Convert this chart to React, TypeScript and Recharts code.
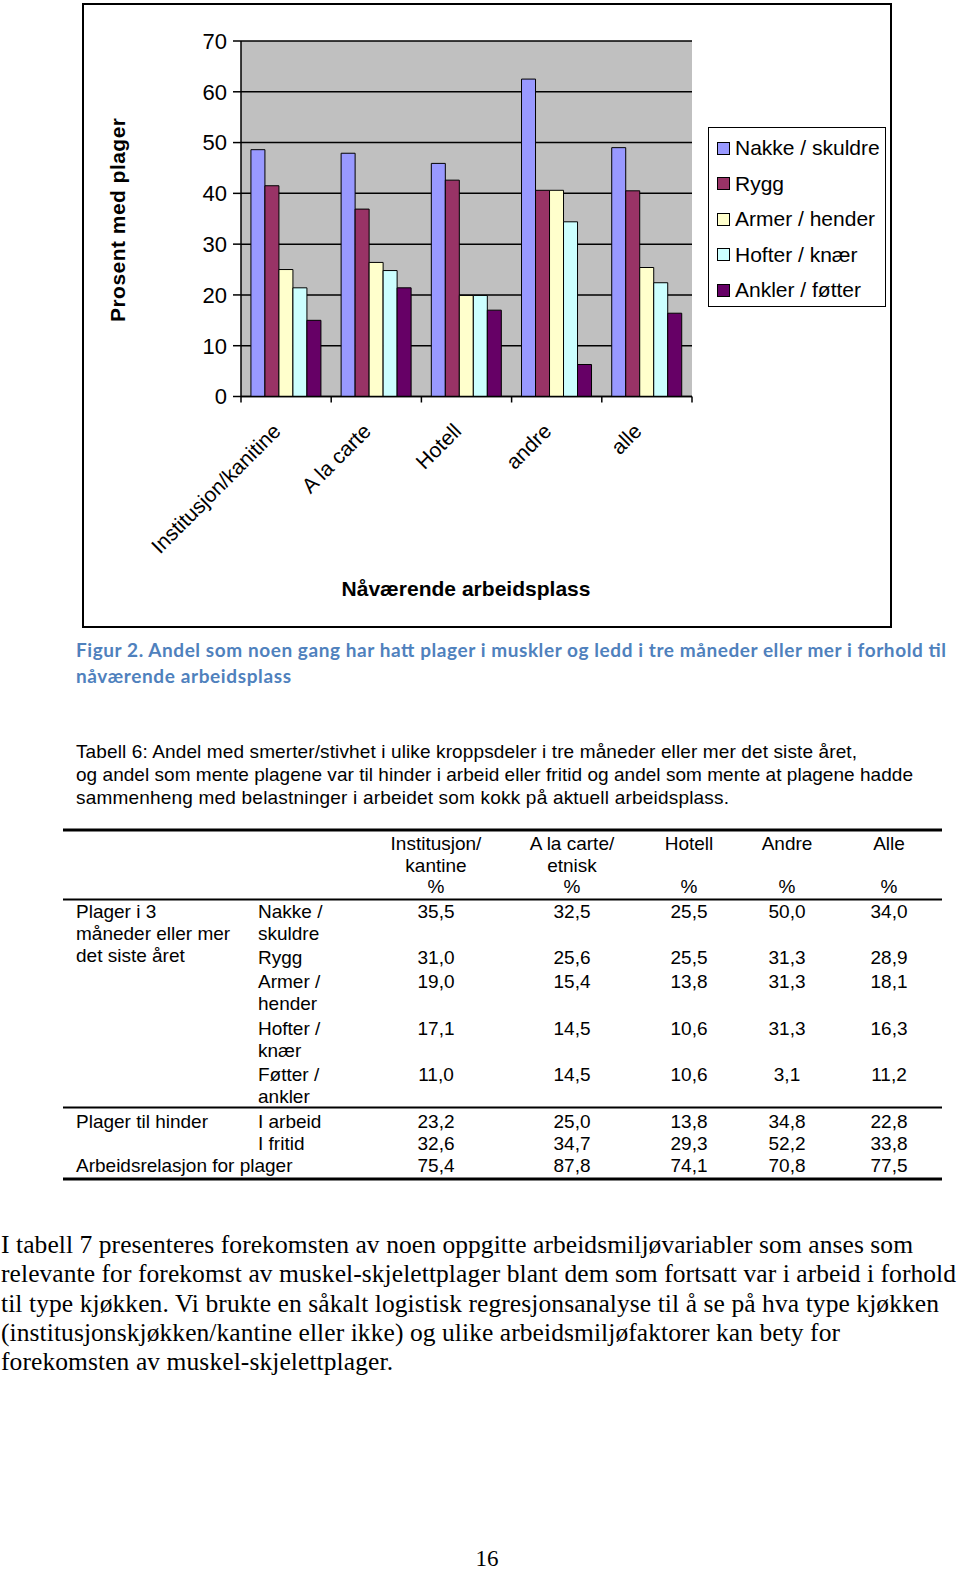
import React from 'react';
import { BarChart, Bar, XAxis, YAxis, CartesianGrid, Legend } from 'recharts';

// ---------- chart data ----------
const categories = ['Institusjon/kanitine', 'A la carte', 'Hotell', 'andre', 'alle'];
const seriesNames = ['Nakke / skuldre', 'Rygg', 'Armer / hender', 'Hofter / knær', 'Ankler / føtter'];
const seriesColors = ['#9999FF', '#993366', '#FFFFCC', '#CCFFFF', '#660066'];
const nakke = [48.6, 47.9, 45.9, 62.5, 49.0];
const rygg = [41.5, 36.9, 42.6, 40.6, 40.5];
const armer = [25.0, 26.4, 19.9, 40.6, 25.4];
const hofter = [21.4, 24.8, 19.9, 34.4, 22.4];
const ankler = [15.0, 21.4, 17.0, 6.3, 16.4];
const yTicks = [0, 10, 20, 30, 40, 50, 60, 70];
const yTitle = 'Prosent med plager';
const xTitle = 'Nåværende arbeidsplass';

// ---------- page text ----------
const captionLines = [
  'Figur 2. Andel som noen gang har hatt plager i muskler og ledd i tre måneder eller mer i forhold til',
  'nåværende arbeidsplass',
];
const introLines = [
  'Tabell 6: Andel med smerter/stivhet i ulike kroppsdeler i tre måneder eller mer det siste året,',
  'og andel som mente plagene var til hinder i arbeid eller fritid og andel som mente at plagene hadde',
  'sammenheng med belastninger i arbeidet som kokk på aktuell arbeidsplass.',
];
const tableHeaders = [
  ['Institusjon/', 'kantine', '%'],
  ['A la carte/', 'etnisk', '%'],
  ['Hotell', '', '%'],
  ['Andre', '', '%'],
  ['Alle', '', '%'],
];
const groupLabels = [
  ['Plager i 3', 'måneder eller mer', 'det siste året'],
  ['Plager til hinder'],
  ['Arbeidsrelasjon for plager'],
];
const rowLabels = [
  ['Nakke /', 'skuldre'],
  ['Rygg'],
  ['Armer /', 'hender'],
  ['Hofter /', 'knær'],
  ['Føtter /', 'ankler'],
  ['I arbeid'],
  ['I fritid'],
  [''],
];
const rowNakke = ['35,5', '32,5', '25,5', '50,0', '34,0'];
const rowRygg = ['31,0', '25,6', '25,5', '31,3', '28,9'];
const rowArmer = ['19,0', '15,4', '13,8', '31,3', '18,1'];
const rowHofter = ['17,1', '14,5', '10,6', '31,3', '16,3'];
const rowFotter = ['11,0', '14,5', '10,6', '3,1', '11,2'];
const rowArbeid = ['23,2', '25,0', '13,8', '34,8', '22,8'];
const rowFritid = ['32,6', '34,7', '29,3', '52,2', '33,8'];
const rowRelasjon = ['75,4', '87,8', '74,1', '70,8', '77,5'];
const tableRows = [rowNakke, rowRygg, rowArmer, rowHofter, rowFotter, rowArbeid, rowFritid, rowRelasjon];
const paragraphLines = [
  'I tabell 7 presenteres forekomsten av noen oppgitte arbeidsmiljøvariabler som anses som',
  'relevante for forekomst av muskel-skjelettplager blant dem som fortsatt var i arbeid i forhold',
  'til type kjøkken. Vi brukte en såkalt logistisk regresjonsanalyse til å se på hva type kjøkken',
  '(institusjonskjøkken/kantine eller ikke) og ulike arbeidsmiljøfaktorer kan bety for',
  'forekomsten av muskel-skjelettplager.',
];
const pageNumber = '16';

const seriesValues = [nakke, rygg, armer, hofter, ankler];
const data = categories.map((c, i) => {
  const row: any = { cat: c };
  seriesValues.forEach((vals, s) => {
    row['s' + s] = vals[i];
  });
  return row;
});

const SANS = '"Liberation Sans", Arial, sans-serif';
const SERIF = '"Liberation Serif", "Times New Roman", serif';

const XTick = (props: any) => {
  const { x, y, payload, index, width, visibleTicksCount } = props;
  let half = payload && payload.offset ? payload.offset : width / visibleTicksCount / 2;
  if (!isFinite(half)) half = 0;
  const tx = x - 4;
  const ty = y + 36;
  return (
    <g>
      <line x1={x - half} y1={y} x2={x - half} y2={y + 6} stroke="#000" strokeWidth={1.5} />
      {index === visibleTicksCount - 1 && (
        <line x1={x + half} y1={y} x2={x + half} y2={y + 6} stroke="#000" strokeWidth={1.5} />
      )}
      <text
        x={tx}
        y={ty}
        transform={`rotate(-45 ${tx} ${ty})`}
        textAnchor="end"
        fontSize={21}
        fontFamily={SANS}
        fill="#000"
      >
        {payload.value}
      </text>
    </g>
  );
};

const LegendBox = () => (
  <div
    style={{
      position: 'relative',
      width: 178,
      height: 180,
      boxSizing: 'border-box',
      border: '1.5px solid #000',
      background: '#fff',
    }}
  >
    {seriesNames.map((n, i) => (
      <div
        key={n}
        style={{
          position: 'absolute',
          left: 8,
          top: 7 + i * 35.5,
          height: 26,
          display: 'flex',
          alignItems: 'center',
          whiteSpace: 'nowrap',
          fontFamily: SANS,
          fontSize: 21,
          color: '#000',
        }}
      >
        <span
          style={{
            display: 'inline-block',
            width: 13,
            height: 13,
            boxSizing: 'border-box',
            border: '1px solid #000',
            background: seriesColors[i],
            marginRight: 5,
          }}
        />
        <span>{n}</span>
      </div>
    ))}
  </div>
);

const Chart = () => (
  <BarChart
    width={960}
    height={640}
    data={data}
    margin={{ top: 41, right: 268, bottom: 43.5, left: 181 }}
    barGap={0}
    barCategoryGap="11%"
  >
    <CartesianGrid vertical={false} stroke="#000" strokeWidth={1.5} fill="#C0C0C0" fillOpacity={1} />
    <XAxis
      xAxisId="top"
      orientation="top"
      dataKey="cat"
      height={0}
      tick={false}
      tickLine={false}
      axisLine={{ stroke: '#808080', strokeWidth: 1.5 }}
    />
    <YAxis
      yAxisId="right"
      orientation="right"
      width={0}
      domain={[0, 70]}
      tick={false}
      tickLine={false}
      axisLine={{ stroke: '#808080', strokeWidth: 1.5 }}
    />
    <XAxis
      dataKey="cat"
      height={200}
      interval={0}
      tickSize={0}
      tickMargin={0}
      tickLine={false}
      axisLine={{ stroke: '#000', strokeWidth: 1.5 }}
      tick={<XTick />}
      label={{
        content: () => (
          <text
            x={466}
            y={596}
            textAnchor="middle"
            fontSize={21}
            fontWeight="bold"
            fontFamily={SANS}
            fill="#000"
            textLength={249}
          >
            {xTitle}
          </text>
        ),
      }}
    />
    <YAxis
      domain={[0, 70]}
      ticks={yTicks}
      interval={0}
      width={60}
      tickSize={8}
      tickMargin={6}
      axisLine={{ stroke: '#000', strokeWidth: 1.5 }}
      tickLine={{ stroke: '#000', strokeWidth: 1.5 }}
      tick={{ fontSize: 22, fill: '#000', fontFamily: SANS }}
      label={{
        content: () => (
          <text
            x={125}
            y={220}
            transform="rotate(-90 125 220)"
            textAnchor="middle"
            fontSize={21}
            fontWeight="bold"
            fontFamily={SANS}
            fill="#000"
            textLength={204}
          >
            {yTitle}
          </text>
        ),
      }}
    />
    <Legend
      layout="vertical"
      align="center"
      verticalAlign="middle"
      wrapperStyle={{ left: 708, top: 127, width: 178, height: 180 }}
      content={() => <LegendBox />}
    />
    {seriesNames.map((n, i) => (
      <Bar
        key={n}
        dataKey={'s' + i}
        name={n}
        fill={seriesColors[i]}
        stroke="#000"
        strokeWidth={1}
        isAnimationActive={false}
      />
    ))}
  </BarChart>
);

const colCenters = [436, 572, 689, 787, 889];
const headerBaselines = [850, 871.5, 893];
const rowBaselines = [
  [918, 940],
  [963.5],
  [987.5, 1010],
  [1034.5, 1057],
  [1081, 1103],
  [1127.5],
  [1150],
  [1172],
];
const groupBaselines = [[918, 940, 962], [1127.5], [1172]];

const PageText = () => (
  <svg
    width={960}
    height={1570}
    style={{ position: 'absolute', left: 0, top: 0, pointerEvents: 'none' }}
  >
    {captionLines.map((t, i) => (
      <text
        key={'c' + i}
        x={76}
        y={657 + i * 26}
        fontFamily='Lato, "Open Sans", sans-serif'
        fontWeight="bold"
        fontSize={19}
        fill="#4F81BD"
        textLength={i === 0 ? 870 : 215}
      >
        {t}
      </text>
    ))}
    {introLines.map((t, i) => (
      <text
        key={'i' + i}
        x={76}
        y={758 + i * 22.8}
        fontFamily={SANS}
        fontSize={19}
        fill="#000"
        textLength={[781, 837, 653][i]}
      >
        {t}
      </text>
    ))}
    {/* table rules */}
    <line x1={63} y1={830} x2={942} y2={830} stroke="#000" strokeWidth={3} />
    <line x1={63} y1={899.5} x2={942} y2={899.5} stroke="#000" strokeWidth={2} />
    <line x1={63} y1={1107.5} x2={942} y2={1107.5} stroke="#000" strokeWidth={2} />
    <line x1={63} y1={1179} x2={942} y2={1179} stroke="#000" strokeWidth={3} />
    {tableHeaders.map((h, c) =>
      h.map((t, k) =>
        t ? (
          <text
            key={'h' + c + k}
            x={colCenters[c]}
            y={headerBaselines[k]}
            textAnchor="middle"
            fontFamily={SANS}
            fontSize={19}
            fill="#000"
          >
            {t}
          </text>
        ) : null
      )
    )}
    {groupLabels.map((g, gi) =>
      g.map((t, k) => (
        <text key={'g' + gi + k} x={76} y={groupBaselines[gi][k]} fontFamily={SANS} fontSize={19} fill="#000">
          {t}
        </text>
      ))
    )}
    {rowLabels.map((r, ri) =>
      r.map((t, k) =>
        t ? (
          <text key={'r' + ri + k} x={258} y={rowBaselines[ri][k]} fontFamily={SANS} fontSize={19} fill="#000">
            {t}
          </text>
        ) : null
      )
    )}
    {tableRows.map((vals, ri) =>
      vals.map((v, c) => (
        <text
          key={'v' + ri + c}
          x={colCenters[c]}
          y={rowBaselines[ri][0]}
          textAnchor="middle"
          fontFamily={SANS}
          fontSize={19}
          fill="#000"
        >
          {v}
        </text>
      ))
    )}
    {paragraphLines.map((t, i) => (
      <text
        key={'p' + i}
        x={1}
        y={1253 + i * 29.3}
        fontFamily={SERIF}
        fontSize={25.5}
        fill="#000"
        textLength={[912, 955, 938, 839, 392][i]}
      >
        {t}
      </text>
    ))}
    <text x={487} y={1566} textAnchor="middle" fontFamily={SERIF} fontSize={23} fill="#000">
      {pageNumber}
    </text>
  </svg>
);

export default function App() {
  return (
    <div
      style={{
        position: 'absolute',
        left: 0,
        top: 0,
        width: 960,
        height: 1570,
        background: '#fff',
        overflow: 'hidden',
      }}
    >
      <div
        style={{
          position: 'absolute',
          left: 82,
          top: 3,
          width: 810,
          height: 625,
          boxSizing: 'border-box',
          border: '2px solid #000',
        }}
      />
      <div style={{ position: 'absolute', left: 0, top: 0 }}>
        <Chart />
      </div>
      <PageText />
    </div>
  );
}
